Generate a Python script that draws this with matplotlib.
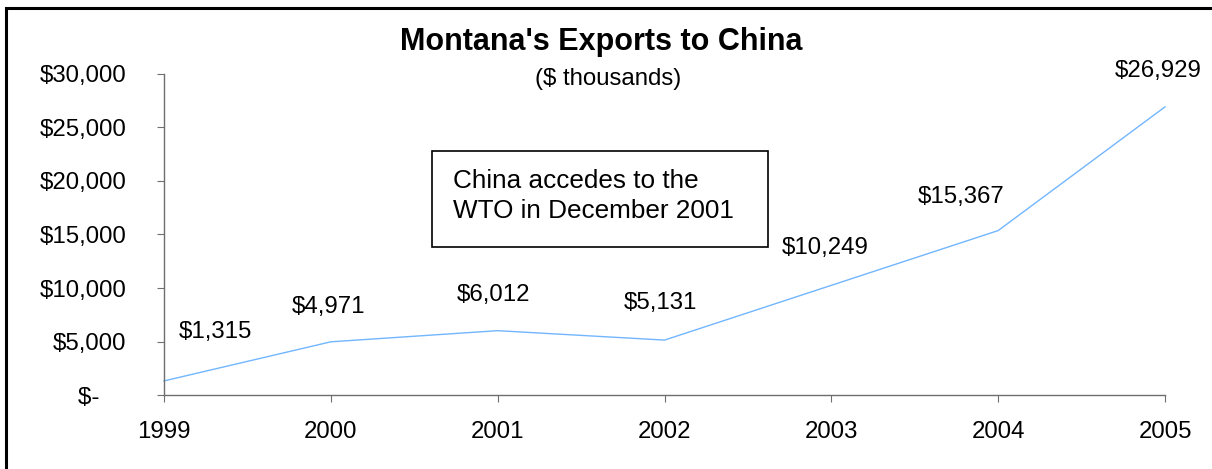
import matplotlib
matplotlib.use("Agg")
import matplotlib.pyplot as plt
from matplotlib.patches import Rectangle
from matplotlib.ticker import FuncFormatter

plt.rcParams['font.family'] = ['Liberation Sans', 'DejaVu Sans']

# exports, $ thousands
years = [1999, 2000, 2001, 2002, 2003, 2004, 2005]
exports = [1315, 4971, 6012, 5131, 10249, 15367, 26929]
y_ticks = [0, 5000, 10000, 15000, 20000, 25000, 30000]

title = "Montana's Exports to China"
subtitle = "($ thousands)"
note = "China accedes to the\nWTO in December 2001"

# where each value label sits relative to its point (pixels)
label_offsets = [(51, 49), (-2, 35), (-4, 36), (-4, 37), (-6, 37), (-37, 34), (-7, 36)]

W, H = 1212, 469
fig = plt.figure(figsize=(W / 100, H / 100), dpi=100)
ax = fig.add_axes([164 / W, 1 - 395 / H, (1165 - 164) / W, (395 - 74) / H])

ax.plot(years, exports, color='#72b6ff', lw=1.0, clip_on=False)
ax.set_xlim(1999, 2005)
ax.set_ylim(0, 30000)
ax.set_xticks(years)
ax.set_yticks(y_ticks)


def dollars(v, pos):
    if v == 0:
        return '$-    '
    return '${:,.0f}'.format(v)


ax.yaxis.set_major_formatter(FuncFormatter(dollars))
for side in ['top', 'right']:
    ax.spines[side].set_visible(False)
for side in ['left', 'bottom']:
    ax.spines[side].set_color('#6e6e6e')
    ax.spines[side].set_linewidth(1.0)
ax.tick_params(axis='y', direction='out', length=5, color='#6e6e6e', labelsize=17.3, pad=22)
ax.tick_params(axis='x', direction='out', length=5, color='#6e6e6e', labelsize=17.3, pad=14)

for x, v, (dx, dy) in zip(years, exports, label_offsets):
    ax.annotate('${:,}'.format(v), (x, v), xytext=(dx, dy), textcoords='offset pixels',
                ha='center', va='center', fontsize=17.3, annotation_clip=False)

fig.text(601 / W, 1 - 50 / H, title, ha='center', va='baseline', fontsize=22, fontweight='bold')
fig.text(608 / W, 1 - 79 / H, subtitle, ha='center', va='center', fontsize=17.3)

# note box
fig.patches.append(Rectangle((432 / W, 1 - 247 / H), (768 - 432) / W, (247 - 151) / H,
                             transform=fig.transFigure, fill=False, edgecolor='black', lw=1.2))
for i, line in enumerate(note.split('\n')):
    fig.text(453 / W, 1 - (188 + 30 * i) / H, line, ha='left', va='baseline', fontsize=18.8)

# outer frame
fig.patches.append(Rectangle((5.5 / W, -0.1), 2, 1.1 - 8.5 / H, transform=fig.transFigure,
                             fill=False, edgecolor='black', lw=2.2, clip_on=False))

fig.savefig('out.png', dpi=100)
